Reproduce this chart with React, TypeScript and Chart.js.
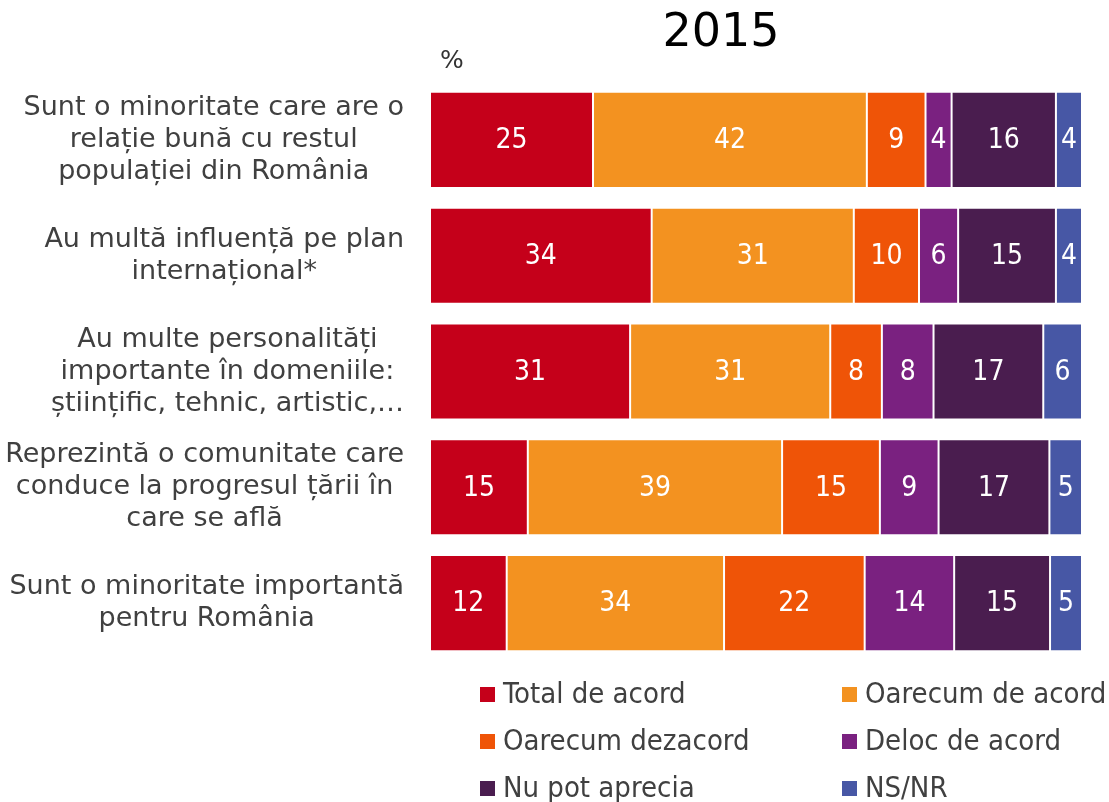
import React, { useEffect, useRef } from "react";
import { Chart, registerables } from "chart.js";

Chart.register(...registerables);

const title = "2015";
const unitLabel = "%";

const categories: string[][] = [
  ["Sunt o minoritate care are o", "relație bună cu restul", "populației din România"],
  ["Au multă influență pe plan", "internațional*"],
  ["Au multe personalități", "importante în domeniile:", "științific, tehnic, artistic,…"],
  ["Reprezintă o comunitate care", "conduce la progresul țării în", "care se află"],
  ["Sunt o minoritate importantă", "pentru România"],
];

const seriesNames = [
  "Total de acord",
  "Oarecum de acord",
  "Oarecum dezacord",
  "Deloc de acord",
  "Nu pot aprecia",
  "NS/NR",
];

const totalDeAcord = [25, 34, 31, 15, 12];
const oarecumDeAcord = [42, 31, 31, 39, 34];
const oarecumDezacord = [9, 10, 8, 15, 22];
const delocDeAcord = [4, 6, 8, 9, 14];
const nuPotAprecia = [16, 15, 17, 17, 15];
const nsNr = [4, 4, 6, 5, 5];

const seriesColors = ["#C5001A", "#F39220", "#EF5407", "#7A2180", "#4A1D4F", "#4757A5"];

const allSeries = [totalDeAcord, oarecumDeAcord, oarecumDezacord, delocDeAcord, nuPotAprecia, nsNr];

const AXIS_FONT = '"DejaVu Sans", Verdana, sans-serif';
const COND_FONT = '"DejaVu Sans Condensed", "DejaVu Sans", sans-serif';

export default function App() {
  const canvasRef = useRef<HTMLCanvasElement | null>(null);

  useEffect(() => {
    const canvas = canvasRef.current;
    if (!canvas) return;

    const rowSums = categories.map((_, i) => allSeries.reduce((s, arr) => s + arr[i], 0));

    const datasets = allSeries.map((arr, k) => ({
      label: seriesNames[k],
      data: arr.map((v, i) => (v / rowSums[i]) * 100),
      raw: arr,
      backgroundColor: seriesColors[k],
      borderColor: "rgba(255,255,255,0.45)",
      borderWidth: 1,
      borderSkipped: false,
      categoryPercentage: 1,
      barPercentage: 0.83,
    }));

    const customDraw = {
      id: "customDraw",
      afterDraw(chart: any) {
        const ctx = chart.ctx;
        const area = chart.chartArea;
        const yScale = chart.scales.y;
        ctx.save();

        // Title
        ctx.fillStyle = "#000000";
        ctx.font = `46px ${AXIS_FONT}`;
        ctx.textAlign = "center";
        ctx.textBaseline = "middle";
        ctx.fillText(title, 721, 34);

        // Unit label
        ctx.fillStyle = "#333333";
        ctx.font = `25px ${AXIS_FONT}`;
        ctx.textAlign = "left";
        ctx.fillText(unitLabel, 440, 61);

        // Category labels
        ctx.fillStyle = "#404040";
        ctx.font = `27px ${AXIS_FONT}`;
        const lineH = 32;
        const rightEdge = area.left - 26;
        categories.forEach((lines, i) => {
          const cy = yScale.getPixelForValue(i);
          const widest = Math.max(...lines.map((l) => ctx.measureText(l).width));
          const cx = rightEdge - widest / 2;
          const startY = cy - ((lines.length - 1) * lineH) / 2;
          ctx.textAlign = "center";
          ctx.textBaseline = "middle";
          lines.forEach((l, j) => ctx.fillText(l, cx, startY + j * lineH));
        });

        // Data labels
        ctx.fillStyle = "#FFFFFF";
        ctx.font = `28px ${COND_FONT}`;
        ctx.textAlign = "center";
        ctx.textBaseline = "middle";
        chart.data.datasets.forEach((ds: any, k: number) => {
          const meta = chart.getDatasetMeta(k);
          meta.data.forEach((bar: any, i: number) => {
            const cx = (bar.x + bar.base) / 2;
            ctx.fillText(String(ds.raw[i]), cx, bar.y + 1);
          });
        });

        // Legend
        const cols = [480, 842];
        const rows = [695, 742, 789];
        ctx.font = `29px ${COND_FONT}`;
        ctx.textAlign = "left";
        ctx.textBaseline = "middle";
        chart.data.datasets.forEach((ds: any, k: number) => {
          const x = cols[k % 2];
          const y = rows[Math.floor(k / 2)];
          ctx.fillStyle = ds.backgroundColor;
          ctx.fillRect(x, y - 8, 15, 15);
          ctx.fillStyle = "#404040";
          ctx.fillText(ds.label, x + 23, y);
        });

        ctx.restore();
      },
    };

    const chart = new Chart(canvas, {
      type: "bar",
      data: {
        labels: categories.map((c) => c.join(" ")),
        datasets: datasets as any,
      },
      options: {
        indexAxis: "y",
        animation: false,
        responsive: false,
        maintainAspectRatio: false,
        layout: { padding: { left: 430, right: 27, top: 82, bottom: 141 } },
        scales: {
          x: { stacked: true, min: 0, max: 100, display: false },
          y: { stacked: true, display: false },
        },
        plugins: {
          legend: { display: false },
          title: { display: false },
          tooltip: { enabled: false },
        },
      },
      plugins: [customDraw],
    });

    return () => chart.destroy();
  }, []);

  return (
    <div style={{ position: "absolute", left: 0, top: 0, width: 1109, height: 802, background: "#fff" }}>
      <canvas ref={canvasRef} width={1109} height={802} style={{ width: 1109, height: 802, display: "block" }} />
    </div>
  );
}
